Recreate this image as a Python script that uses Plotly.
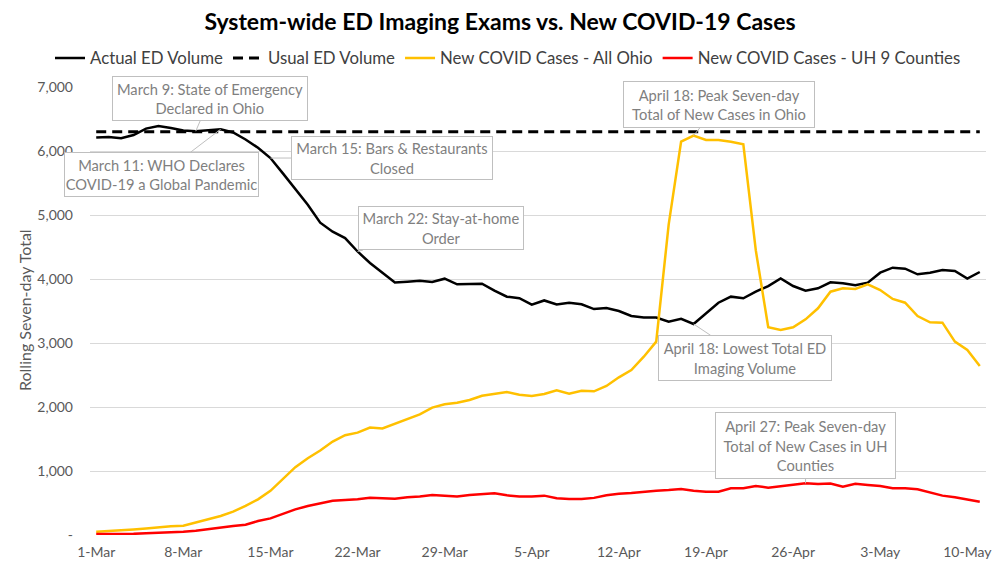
import plotly.graph_objects as go
import pandas as pd

dates = pd.date_range("2020-03-01", "2020-05-11", freq="D")

actual_ed = [6210, 6220, 6200, 6250, 6350, 6390, 6360, 6320, 6310, 6320,
             6340, 6290, 6180, 6050, 5890, 5650, 5400, 5160, 4880, 4740,
             4640, 4430, 4250, 4100, 3945, 3958, 3974, 3953, 4005, 3917,
             3927, 3927, 3818, 3724, 3700, 3600, 3665, 3602, 3630, 3606,
             3530, 3545, 3500, 3422, 3398, 3398, 3333, 3378, 3297, 3464,
             3630, 3724, 3698, 3802, 3890, 4010, 3890, 3818, 3854, 3948,
             3932, 3901, 3943, 4099, 4177, 4161, 4073, 4099, 4141, 4125,
             4005, 4109]

usual_ed = [6300] * 72

ohio_cases = [50, 58, 70, 85, 100, 120, 135, 146, 190, 245,
              297, 365, 455, 557, 690, 870, 1060, 1200, 1320, 1460,
              1560, 1600, 1680, 1665, 1740, 1815, 1885, 1990, 2042, 2065,
              2109, 2175, 2200, 2234, 2190, 2172, 2203, 2262, 2208, 2255,
              2245, 2328, 2464, 2578, 2786, 3021, 4850, 6146, 6240, 6172,
              6172, 6146, 6104, 4450, 3245, 3203, 3245, 3370, 3542, 3802,
              3854, 3844, 3917, 3828, 3688, 3630, 3422, 3323, 3318, 3021,
              2891, 2641]

uh_cases = [16, 16, 16, 18, 28, 32, 36, 50, 68, 94,
            120, 141, 160, 219, 260, 328, 400, 453, 495, 536,
            547, 557, 583, 573, 565, 589, 600, 625, 612, 600,
            625, 641, 651, 620, 600, 600, 615, 575, 562, 562,
            580, 620, 645, 656, 677, 693, 703, 719, 693, 677,
            677, 729, 729, 766, 740, 766, 781, 807, 797, 805,
            755, 800, 781, 766, 729, 729, 714, 661, 615, 589,
            557, 521]

x_tick_dates = ["2020-03-01", "2020-03-08", "2020-03-15", "2020-03-22", "2020-03-29",
                "2020-04-05", "2020-04-12", "2020-04-19", "2020-04-26", "2020-05-03",
                "2020-05-10"]
x_tick_labels = ["1-Mar", "8-Mar", "15-Mar", "22-Mar", "29-Mar", "5-Apr",
                 "12-Apr", "19-Apr", "26-Apr", "3-May", "10-May"]
y_tick_vals = [0, 1000, 2000, 3000, 4000, 5000, 6000, 7000]
y_tick_labels = ["-", "1,000", "2,000", "3,000", "4,000", "5,000", "6,000", "7,000"]

FONT = "Lato"

fig = go.Figure()
fig.add_trace(go.Scatter(x=dates, y=actual_ed, mode="lines", name="Actual ED Volume",
                         line=dict(color="#000000", width=2.5)))
fig.add_trace(go.Scatter(x=dates, y=usual_ed, mode="lines", name="Usual ED Volume",
                         line=dict(color="#000000", width=3, dash="10px,6px")))
fig.add_trace(go.Scatter(x=dates, y=ohio_cases, mode="lines", name="New COVID Cases - All Ohio",
                         line=dict(color="#FFC000", width=2.5)))
fig.add_trace(go.Scatter(x=dates, y=uh_cases, mode="lines", name="New COVID Cases - UH 9 Counties",
                         line=dict(color="#FF0000", width=2.5)))

callouts = [
    (8, actual_ed[8], "March 9: State of Emergency<br>Declared in Ohio", 14, -33, 194, 43),
    (10, actual_ed[10], "March 11: WHO Declares<br>COVID-19 a Global Pandemic", -59, 45, 193, 43),
    (14, actual_ed[14], "March 15: Bars &amp; Restaurants<br>Closed", 122, 0, 200, 42),
    (21, actual_ed[21], "March 22: Stay-at-home<br>Order", 83, -23, 164, 42),
    (48, ohio_cases[48], "April 18: Peak Seven-day<br>Total of New Cases in Ohio", 25, -31, 190, 45),
    (48, actual_ed[48], "April 18: Lowest Total ED<br>Imaging Volume", 51, 34, 172, 44),
    (57, uh_cases[57], "April 27: Peak Seven-day<br>Total of New Cases in UH<br>Counties", 0, -38, 179, 65),
]
for idx, val, text, ax, ay, w, h in callouts:
    fig.add_annotation(x=dates[idx], y=val, xref="x", yref="y", text=text,
                       showarrow=True, arrowhead=0, arrowwidth=1, arrowcolor="#bfbfbf",
                       ax=ax, ay=ay, width=w, height=h, align="center",
                       bgcolor="white", bordercolor="#bfbfbf", borderwidth=1, borderpad=0,
                       font=dict(family=FONT, size=14.7, color="#7f7f7f"))

# y-axis title placed as rotated text in the left margin
fig.add_annotation(text="Rolling Seven-day Total", xref="paper", yref="paper",
                   x=(24 - 90) / 896, y=(535 - 310) / 448, xanchor="center", yanchor="middle",
                   textangle=-90, showarrow=False,
                   font=dict(family=FONT, size=16, color="#595959"))

fig.update_layout(
    width=1000, height=562,
    margin=dict(l=90, r=14, t=87, b=27, autoexpand=False),
    paper_bgcolor="white", plot_bgcolor="white",
    font=dict(family=FONT, color="#595959"),
    title=dict(text="<b>System-wide ED Imaging Exams vs. New COVID-19 Cases</b>",
               x=0.5, xanchor="center", y=1 - 22 / 562, yanchor="middle",
               font=dict(family=FONT, size=23, color="#000000")),
    legend=dict(orientation="h", xref="paper", yref="paper",
                x=(50 - 90) / 896, xanchor="left", y=1 + 29 / 448, yanchor="middle",
                font=dict(family=FONT, size=16.8, color="#404040"),
                itemwidth=30, tracegroupgap=0),
    showlegend=True,
)
fig.update_xaxes(range=["2020-02-29 12:00", "2020-05-11 12:00"],
                 tickvals=x_tick_dates, ticktext=x_tick_labels, automargin=False,
                 showgrid=False, showline=False, zeroline=False,
                 ticks="", ticklabelstandoff=7,
                 tickfont=dict(family=FONT, size=14, color="#595959"))
fig.update_yaxes(range=[0, 7000], tickvals=y_tick_vals, ticktext=y_tick_labels,
                 automargin=False,
                 showgrid=True, gridcolor="#d9d9d9", gridwidth=1,
                 zeroline=False, showline=False, ticks="", ticklabelstandoff=16,
                 tickfont=dict(family=FONT, size=14, color="#595959"))

fig.write_html("out.html", config={"displayModeBar": False},
               post_script="document.body.style.margin='0';")
